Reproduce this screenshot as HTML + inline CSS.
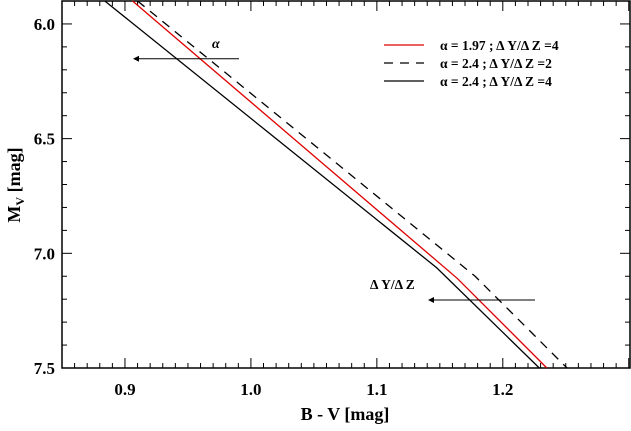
<!DOCTYPE html>
<html><head><meta charset="utf-8"><style>
body{margin:0;background:#fff}
svg{display:block}
text{font-family:"Liberation Serif","Times New Roman","Nimbus Roman","DejaVu Serif",serif}
</style></head><body>
<svg id="chart" width="631" height="431" xmlns="http://www.w3.org/2000/svg">
<g id="axes"></g><g id="series"></g><g id="annot"></g>
</svg>
<script>
const xTicks=[0.9,1.0,1.1,1.2];
const xTickLabels=["0.9","1.0","1.1","1.2"];
const yTicks=[6.0,6.5,7.0,7.5];
const yTickLabels=["6.0","6.5","7.0","7.5"];
const redBV=[0.906,1.164,1.235];
const redMV=[5.9,7.11,7.5];
const dashBV=[0.910,1.178,1.251];
const dashMV=[5.9,7.10,7.5];
const blackBV=[0.884,1.1475,1.229];
const blackMV=[5.9,7.063,7.5];
const legendLabels=["α = 1.97 ; Δ Y/Δ Z =4","α = 2.4  ; Δ Y/Δ Z =2","α = 2.4  ; Δ Y/Δ Z =4"];

const L=62,R=630,T=1,B=368,X0=0.85,X1=1.301,Y0=5.9,Y1=7.5;
const sx=v=>L+(v-X0)/(X1-X0)*(R-L);
const sy=v=>T+(v-Y0)/(Y1-Y0)*(B-T);
const NS="http://www.w3.org/2000/svg";
function mk(p,tag,at){const e=document.createElementNS(NS,tag);for(const k in at)e.setAttribute(k,at[k]);if(tag==='text'){e.style.fontFamily='"Liberation Serif","Times New Roman","DejaVu Serif",serif';e.style.fontWeight='bold';}p.appendChild(e);return e;}
const ax=document.getElementById('axes'),se=document.getElementById('series'),an=document.getElementById('annot');
const frame=mk(ax,'rect',{x:L,y:T,width:R-L,height:B-T,fill:'none',stroke:'#000','stroke-width':1.5});


for(let i=0;i<=45;i++){const v=0.85+i*0.01;const x=sx(v);if(x>R-1)break;const maj=Math.abs((v*10)-Math.round(v*10))<1e-6;const len=maj?10:5;
 mk(ax,'line',{x1:x,x2:x,y1:B,y2:B-len,stroke:'#000','stroke-width':1});
 mk(ax,'line',{x1:x,x2:x,y1:T,y2:T+len,stroke:'#000','stroke-width':1});}
for(let i=0;i<=16;i++){const v=5.9+i*0.1;const y=sy(v);const maj=Math.abs(v*2-Math.round(v*2))<1e-6;const len=maj?10:5;
 mk(ax,'line',{x1:L,x2:L+len,y1:y,y2:y,stroke:'#000','stroke-width':1});
 mk(ax,'line',{x1:R,x2:R-len,y1:y,y2:y,stroke:'#000','stroke-width':1});}
xTicks.forEach((v,i)=>{const t=mk(ax,'text',{x:sx(v),y:B+27,'text-anchor':'middle','font-size':17});t.textContent=xTickLabels[i];
 
 });
yTicks.forEach((v,i)=>{const t=mk(ax,'text',{x:55,y:sy(v)+6,'text-anchor':'end','font-size':17});t.textContent=yTickLabels[i];
 
 });
const xt=mk(ax,'text',{x:345,y:420,'text-anchor':'middle','font-size':18});xt.textContent='B - V [mag]';


const yt=mk(ax,'text',{x:0,y:0,'text-anchor':'middle','font-size':18,transform:'translate(20,185) rotate(-90)'});
yt.innerHTML='M<tspan font-size="12" dy="4">V</tspan><tspan dy="-4"> [mag]</tspan>';


function series(bv,mv,col,dash,name){const p=mk(se,'polyline',{points:bv.map((b,i)=>sx(b)+','+sy(mv[i])).join(' '),fill:'none',stroke:col,'stroke-width':1.3});
 if(dash)p.setAttribute('stroke-dasharray',dash);
 
 }
series(redBV,redMV,'#e00000',null,'series-alpha-1.97');
series(dashBV,dashMV,'#000','9,7','series-alpha-2.4-dydz-2');
series(blackBV,blackMV,'#000',null,'series-alpha-2.4-dydz-4');
const lys=[45,63,81],lst=[['#e00000',null],['#000','9,7'],['#000',null]];
lys.forEach((y,i)=>{const l=mk(an,'line',{x1:384,x2:424,y1:y,y2:y,stroke:lst[i][0],'stroke-width':1.3});if(lst[i][1])l.setAttribute('stroke-dasharray',lst[i][1]);
 
 
 const t=mk(an,'text',{x:440,y:y+5,'font-size':13.5,'xml:space':'preserve'});t.textContent=legendLabels[i];
 
 });
function arrow(x1,x2,y,name){const g=mk(an,'g',{});
 mk(g,'line',{x1:x1,x2:x2+4,y1:y,y2:y,stroke:'#000','stroke-width':1});
 mk(g,'polygon',{points:`${x2},${y} ${x2+6},${y-3} ${x2+6},${y+3}`,fill:'#000'});}
arrow(239,133,58.7,'alpha-arrow');
arrow(535,428,300,'dydz-arrow');
const a1=mk(an,'text',{x:212,y:48,'font-size':14,'font-style':'italic'});a1.textContent='α';


const a2=mk(an,'text',{x:370,y:289,'font-size':13.5});a2.textContent='Δ Y/Δ Z';


</script>
</body></html>
